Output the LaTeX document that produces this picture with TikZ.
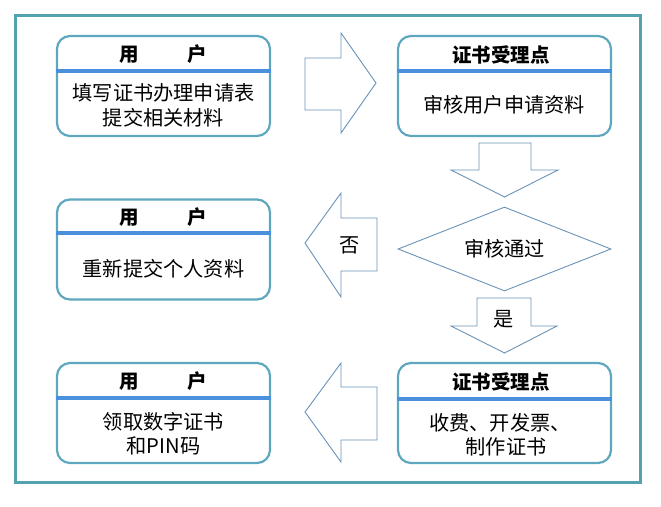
\documentclass[tikz,border=0pt]{standalone}
\usepackage{fontspec}
\setmainfont{Noto Sans CJK SC}
\usetikzlibrary{shapes.geometric}
\definecolor{framec}{HTML}{52A2AF}
\definecolor{boxc}{HTML}{5EA7BF}
\definecolor{headc}{HTML}{4A90DC}
\definecolor{arrc}{HTML}{6A93B8}
\tikzset{
  x=1pt,y=-1pt,
  panel/.style={draw=boxc,line width=2.2pt,rounded corners=13pt,minimum width=213pt,minimum height=100pt,inner sep=0pt},
  headline/.style={draw=headc,line width=3.2pt},
  titletext/.style={font=\fontsize{19.5}{22}\selectfont\bfseries,inner sep=0pt},
  bodytext/.style={font=\fontsize{20.2}{24.5}\selectfont,align=center,inner sep=0pt},
  blockarrow/.style={draw=arrc,line width=0.9pt,fill=white},
}
\begin{document}
\begin{tikzpicture}
\useasboundingbox (0,0) rectangle (661,506);
\draw[framec,line width=3pt] (15,15) rectangle (640,482);
% boxes
\node[panel] (u1) at (163.5,86) {};
\node[panel] (c1) at (504.5,86) {};
\node[panel] (u2) at (163.5,249.5) {};
\node[panel] (u3) at (163.5,413) {};
\node[panel] (c2) at (504.5,413) {};
% header lines
\draw[headline] ([yshift=-36pt]u1.north west) -- ([yshift=-36pt]u1.north east);
\draw[headline] ([yshift=-36pt]c1.north west) -- ([yshift=-36pt]c1.north east);
\draw[headline] ([yshift=-34.5pt]u2.north west) -- ([yshift=-34.5pt]u2.north east);
\draw[headline] ([yshift=-36pt]u3.north west) -- ([yshift=-36pt]u3.north east);
\draw[headline] ([yshift=-37pt]c2.north west) -- ([yshift=-37pt]c2.north east);
% titles
\node[titletext] (u1t) at (163.5,54) {用\hspace{49pt}户};
\node[titletext] (c1t) at (501,55) {证书受理点};
\node[titletext] (u2t) at (163.5,217) {用\hspace{49pt}户};
\node[titletext] (u3t) at (163.5,381) {用\hspace{49pt}户};
\node[titletext] (c2t) at (501,382) {证书受理点};
% body text
\node[bodytext] (u1b) at (163.5,105.5) {填写证书办理申请表\\提交相关材料};
\node[bodytext] (c1b) at (504,105) {审核用户申请资料};
\node[bodytext] (u2b) at (163.5,269) {重新提交个人资料};
\node[bodytext] (u3b) at (163.5,433.5) {领取数字证书\\和PIN码};
\node[bodytext] (c2b) at (500,435) {收费、开发票、\\\hspace{0.6em}制作证书};
% decision
\node[draw=arrc,line width=0.9pt,diamond,aspect=2.55,minimum width=213pt,minimum height=84pt,inner sep=0pt,font=\fontsize{20.2}{22}\selectfont] (d) at (504.5,249) {审核通过};
% block arrows
\draw[blockarrow] (305,58) -- (341,58) -- (341,33) -- (376,83) -- (341,133) -- (341,110) -- (305,110) -- cycle;
\draw[blockarrow] (479,143) -- (531,143) -- (531,170) -- (558,170) -- (504.5,197) -- (451,170) -- (479,170) -- cycle;
\draw[blockarrow] (377,218) -- (341,218) -- (341,193) -- (305,243) -- (341,297) -- (341,271) -- (377,271) -- cycle;
\node[font=\fontsize{20.2}{22}\selectfont,inner sep=0pt] (no) at (350,245) {否};
\draw[blockarrow] (477,298) -- (531,298) -- (531,326) -- (557,326) -- (504.5,353) -- (451,326) -- (477,326) -- cycle;
\node[font=\fontsize{20.2}{22}\selectfont,inner sep=0pt] (yes) at (504,319) {是};
\draw[blockarrow] (377,387) -- (341,387) -- (341,363) -- (305,412) -- (341,462) -- (341,440) -- (377,440) -- cycle;
\end{tikzpicture}
\end{document}
